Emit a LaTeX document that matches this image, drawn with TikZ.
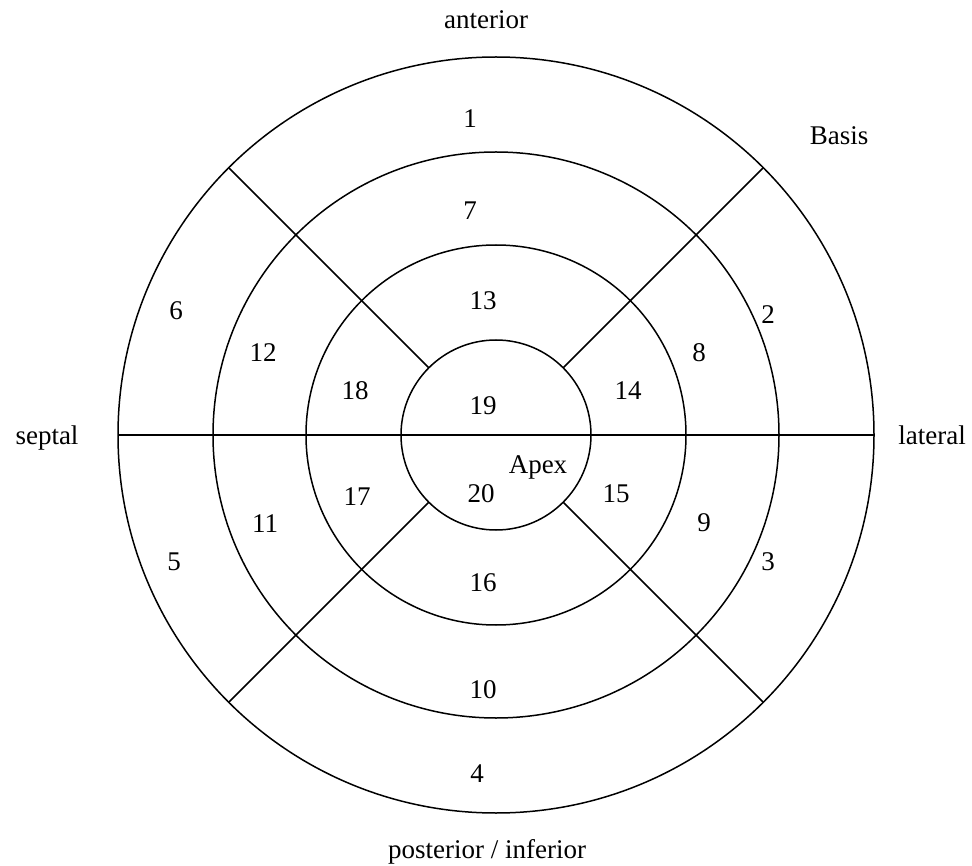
\documentclass[tikz,border=0pt]{standalone}
\usepackage{fontspec}
\setmainfont{Liberation Serif}
\begin{document}
\begin{tikzpicture}[x=1pt,y=-1pt,
  ring/.style={circle,draw,line width=1.5pt,inner sep=0pt,outer sep=0pt},
  seg/.style={line width=1.5pt},
  lbl/.style={font=\fontsize{27}{30}\selectfont,inner sep=0pt},
  num/.style={font=\fontsize{27}{30}\selectfont,inner sep=0pt,anchor=base}]
\useasboundingbox (0,0) rectangle (972,866);
% concentric rings of the bull's-eye plot
\coordinate (c) at (496,435);
\node[ring,minimum size=756pt] (basal) at (c) {};
\node[ring,minimum size=566pt] (mid) at (c) {};
\node[ring,minimum size=380pt] (apical) at (c) {};
\node[ring,minimum size=190pt] (apex) at (c) {};
% dividing lines
\draw[seg] (basal.180) -- (basal.0);
\foreach \a in {45,135,225,315}
  \draw[seg] (apex.\a) -- (basal.\a);
% orientation labels
\node[lbl,anchor=base] (ant) at (486,29) {anterior};
\node[lbl,anchor=base] (bas) at (839,145) {Basis};
\node[lbl,anchor=base] (sep) at (47,445) {septal};
\node[lbl,anchor=base] (lat) at (932,445) {lateral};
\node[lbl,anchor=base] (post) at (487,858) {posterior / inferior};
\node[lbl,anchor=base] (apx) at (538,473) {Apex};
% segment numbers
\foreach \n/\x/\y in {1/470/128, 7/470/220, 13/483/310, 19/483/415,
  18/355/400, 14/628/400, 12/263/362, 8/699/362, 6/176/320, 2/768/324,
  17/357/505, 20/481/502, 15/616/502, 11/265/532, 9/704/531, 5/174/570,
  3/768/570, 16/483/591, 10/483/698, 4/477/782}
  \node[num] (s\n) at (\x,\y) {\n};
\end{tikzpicture}
\end{document}
